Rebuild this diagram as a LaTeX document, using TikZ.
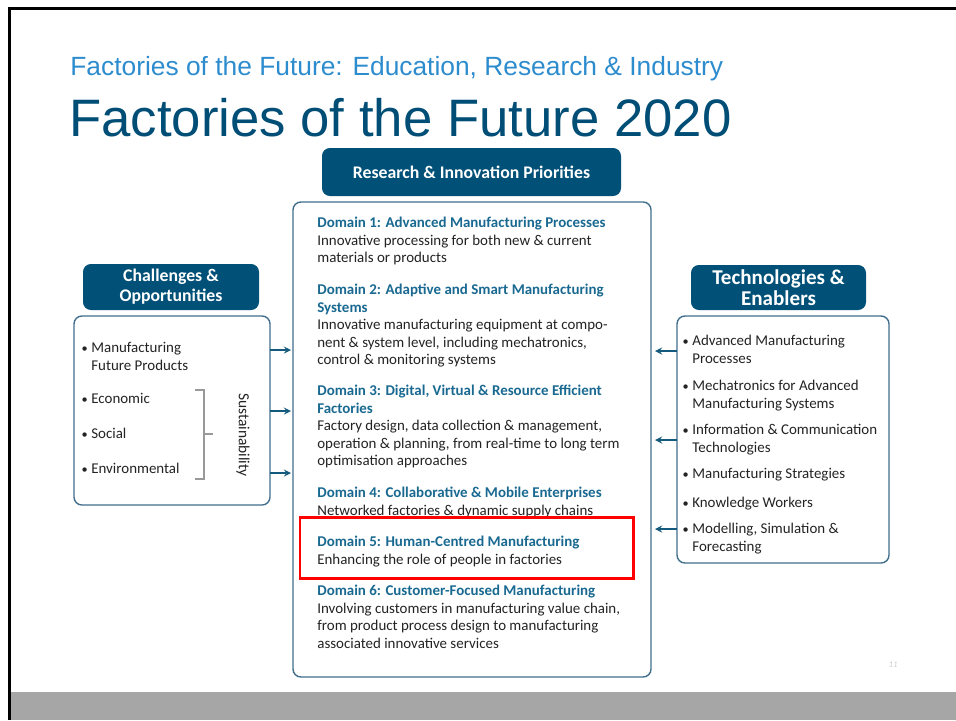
\documentclass[tikz,border=0pt]{standalone}
\usepackage{fontspec}
\setmainfont{Carlito}
\newfontfamily\arialfont{Liberation Sans}
\usetikzlibrary{arrows,positioning}

\definecolor{headblue}{RGB}{0,80,120}
\definecolor{boxline}{RGB}{65,110,140}
\definecolor{domblue}{RGB}{25,105,145}
\definecolor{bodygray}{RGB}{35,35,35}
\definecolor{subblue}{RGB}{45,140,205}
\definecolor{titleblue}{RGB}{0,78,118}
\definecolor{linkblue}{RGB}{20,90,125}
\definecolor{bandgray}{RGB}{166,166,166}

\newcommand{\itm}{\llap{{\scriptsize\textbullet}\hspace{2pt}}}
\newcommand{\dom}[1]{{\bfseries\color{domblue}#1}}

\begin{document}
\begin{tikzpicture}[
x=0.02cm,y=-0.02cm,
>=stealth,
header/.style={
	fill=headblue,
	rounded corners=4.5pt,
	text=white,
	font=\bfseries\fontsize{10.1}{11.2}\selectfont,
	align=center,
	inner sep=0pt
},
panel/.style={
	draw=boxline,
	line width=0.8pt,
	fill=white,
	rounded corners=4.5pt
},
entry/.style={
	anchor=north west,
	inner sep=0pt,
	align=left,
	text=bodygray,
	font=\fontsize{8.5}{9.95}\selectfont
},
link/.style={
	->,
	draw=linkblue,
	line width=0.8pt
}
]
\useasboundingbox (0,0) rectangle (956,720);

% slide frame
\fill[bandgray] (11,692) rectangle (956,720);
\draw[line width=1.7pt] (9.5,720) -- (9.5,8.5) -- (956,8.5);
\node[anchor=base west,inner sep=0pt,text=subblue,font=\arialfont\fontsize{15}{17}\selectfont] (sub) at (70,75) {Factories of the Future: Education, Research \& Industry};
\node[anchor=base west,inner sep=0pt,text=titleblue,font=\arialfont\fontsize{30}{33}\selectfont] (title) at (69,136) {Factories of the Future 2020};

% boxes
\draw[panel] (293,202) rectangle (651,677);
\draw[panel] (74,316) rectangle (270,505);
\draw[panel] (677,316) rectangle (889,563);
\node[header,minimum width=299*0.02cm,minimum height=48*0.02cm] (rip) at (471.5,172) {Research \& Innovation Priorities};
\node[header,minimum width=176*0.02cm,minimum height=46*0.02cm] (cho) at (171,287) {Challenges \&\\Opportunities};
\node[header,minimum width=175*0.02cm,minimum height=45*0.02cm,font=\bfseries\fontsize{12}{12.2}\selectfont] (ten) at (778.5,287.5) {Technologies \&\\Enablers};

% domains
\node[entry] (d1) at (317,217) {\dom{Domain 1: Advanced Manufacturing Processes}\\Innovative processing for both new \& current\\materials or products};
\node[entry] (d2) at (317,284) {\dom{Domain 2: Adaptive and Smart Manufacturing}\\\dom{Systems}\\Innovative manufacturing equipment at compo-\\nent \& system level, including mechatronics,\\control \& monitoring systems};
\node[entry] (d3) at (317,385) {\dom{Domain 3: Digital, Virtual \& Resource Efficient}\\\dom{Factories}\\Factory design, data collection \& management,\\operation \& planning, from real-time to long term\\optimisation approaches};
\node[entry] (d4) at (317,487) {\dom{Domain 4: Collaborative \& Mobile Enterprises}\\Networked factories \& dynamic supply chains};
\node[entry] (d5) at (317,536) {\dom{Domain 5: Human-Centred Manufacturing}\\Enhancing the role of people in factories};
\node[entry] (d6) at (317,585) {\dom{Domain 6: Customer-Focused Manufacturing}\\Involving customers in manufacturing value chain,\\from product process design to manufacturing\\associated innovative services};
\draw[red,line width=1.7pt] (300,517) rectangle (633,578);

% challenges
\node[entry] (c1) at (91,342) {\itm Manufacturing\\Future Products};
\node[entry] (c2) at (91,393) {\itm Economic};
\node[entry] (c3) at (91,428) {\itm Social};
\node[entry] (c4) at (91,463) {\itm Environmental};
\draw[gray!80,line width=0.6pt] (195,390) -- (204,390) -- (204,479) -- (195,479);
\draw[gray!80,line width=0.6pt] (204,434) -- (213,434);
\node[rotate=-90,text=bodygray,font=\fontsize{8.8}{10}\selectfont,inner sep=0pt] (sus) at (243,435) {Sustainability};

% technologies
\node[entry] (t1) at (692,335) {\itm Advanced Manufacturing\\Processes};
\node[entry] (t2) at (692,380) {\itm Mechatronics for Advanced\\Manufacturing Systems};
\node[entry] (t3) at (692,424) {\itm Information \& Communication\\Technologies};
\node[entry] (t4) at (692,468) {\itm Manufacturing Strategies};
\node[entry] (t5) at (692,497) {\itm Knowledge Workers};
\node[entry] (t6) at (692,523) {\itm Modelling, Simulation \&\\Forecasting};

% links
\foreach \y/\n in {350/a,411/b,473/c}{
	\coordinate (l\n) at (270,\y);
	\coordinate (m\n) at (291,\y);
	\draw[link] (l\n) -- (m\n);
}
\foreach \y/\n in {351/a,440/b,529/c}{
	\coordinate (r\n) at (677,\y);
	\coordinate (s\n) at (655,\y);
	\draw[link] (r\n) -- (s\n);
}

\node[text=gray!40,font=\tiny\itshape,inner sep=0pt] (pg) at (893,665) {11};
\end{tikzpicture}
\end{document}
